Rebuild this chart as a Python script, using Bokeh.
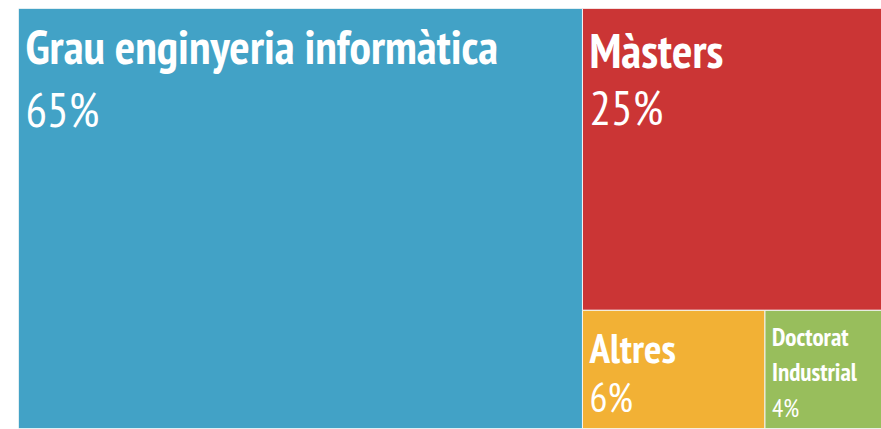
from bokeh.plotting import figure
from bokeh.models import Range1d, ColumnDataSource
from bokeh.core.properties import value
from bokeh.embed import file_html
from bokeh.resources import INLINE

# data (shares; labels show rounded values)
categories = ["Grau enginyeria informàtica", "Màsters", "Altres", "Doctorat Industrial"]
shares = [65.35, 24.9, 5.95, 3.8]
colors = ["#42A2C6", "#CB3535", "#F2B135", "#98BE5C"]

W, H = 863.0, 420.0


def worst(row, side):
    s = sum(row)
    return max(max(side * side * r / (s * s), (s * s) / (side * side * r)) for r in row)


def layout_row(row, x, y, w, h, out):
    s = sum(row)
    if w >= h:
        cw = s / h
        yy = y + h
        for r in row:
            rh = r / cw
            out.append((x, yy - rh, x + cw, yy))
            yy -= rh
        return x + cw, y, w - cw, h
    else:
        rh = s / w
        xx = x
        for r in row:
            rw = r / rh
            out.append((xx, y + h - rh, xx + rw, y + h))
            xx += rw
        return x, y, w, h - rh


def squarify(vals, x, y, w, h):
    total = sum(vals)
    areas = [v * w * h / total for v in vals]
    out = []
    row = []
    i = 0
    while i < len(areas):
        side = min(w, h)
        a = areas[i]
        if not row or worst(row + [a], side) <= worst(row, side):
            row.append(a)
            i += 1
        else:
            x, y, w, h = layout_row(row, x, y, w, h, out)
            row = []
    if row:
        layout_row(row, x, y, w, h, out)
    return out


rects = squarify(shares, 0, 0, W, H)
x0 = [r[0] for r in rects]
y0 = [r[1] for r in rects]
x1 = [r[2] for r in rects]
y1 = [r[3] for r in rects]

p = figure(width=881, height=429, output_backend="svg", toolbar_location=None,
           x_range=Range1d(0, W), y_range=Range1d(0, H),
           min_border_left=18, min_border_top=8, min_border_right=0, min_border_bottom=1)
p.axis.visible = False
p.xgrid.visible = False
p.ygrid.visible = False
p.outline_line_color = None
p.background_fill_color = "white"
p.border_fill_color = "white"

src = ColumnDataSource(dict(left=x0, right=x1, bottom=y0, top=y1, color=colors))
p.quad(left="left", right="right", bottom="bottom", top="top", fill_color="color",
       line_color="#F4F4F4", line_width=1, source=src)

FONT = "'PT Sans Narrow', 'Liberation Sans Narrow', 'DejaVu Sans Condensed', 'Roboto', sans-serif"
title_sizes = [48, 48, 41, 25]
pct_sizes = [48, 48, 40, 25]
title_offsets = [37, 41, 37, 27]
line_gap = [0, 0, 0, 35]
pct_offsets = [100, 98, 87, 98]

for i, name in enumerate(categories):
    lines = name.split(" ") if shares[i] < 5 else [name]
    for j, ln in enumerate(lines):
        p.text(x=[x0[i]], y=[y1[i]], text=[ln], x_offset=7,
               y_offset=title_offsets[i] + j * line_gap[i],
               text_font=value(FONT), text_font_style="bold",
               text_font_size=f"{title_sizes[i]}px", text_color="white",
               text_baseline="alphabetic", text_align="left")
    p.text(x=[x0[i]], y=[y1[i]], text=[f"{round(shares[i])}%"], x_offset=7,
           y_offset=pct_offsets[i],
           text_font=value(FONT), text_font_size=f"{pct_sizes[i]}px",
           text_color="white", text_baseline="alphabetic", text_align="left")

open("out.html", "w").write(file_html(p, INLINE))
